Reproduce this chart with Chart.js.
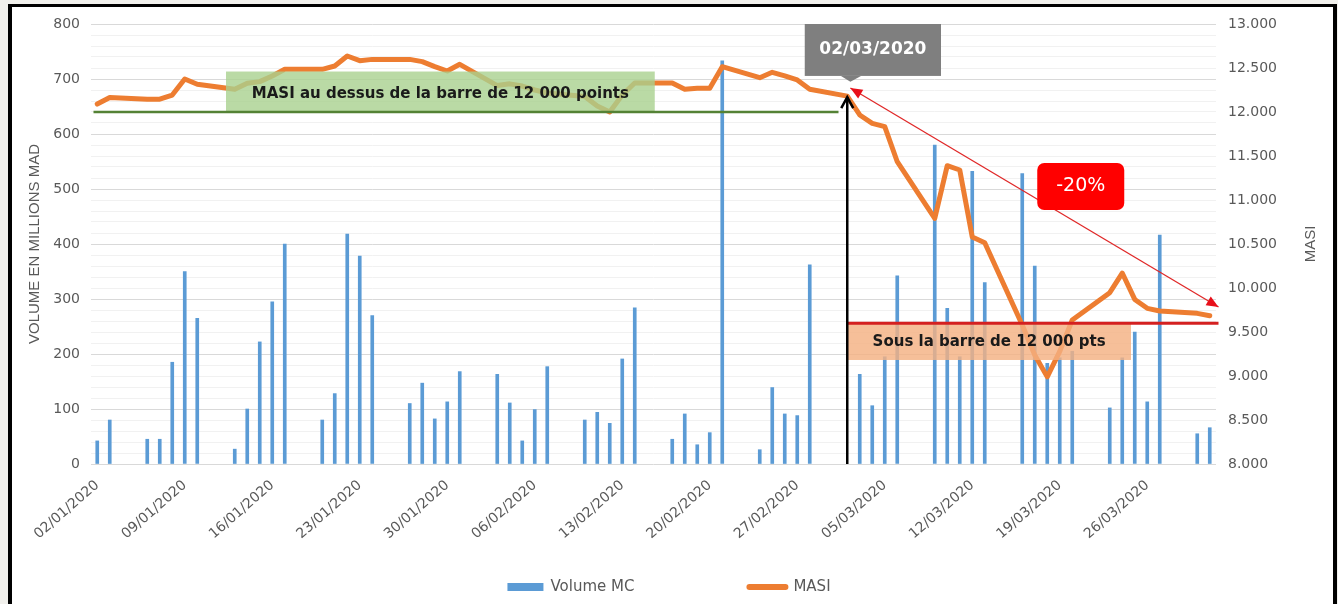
<!DOCTYPE html>
<html>
<head>
<meta charset="utf-8">
<script src="https://cdn.jsdelivr.net/npm/chart.js@4"></script>
<style>
  html, body { margin: 0; padding: 0; width: 1338px; height: 604px; overflow: hidden; background: #f1f0ec; }
  #frame { position: absolute; left: 8px; top: 4px; width: 1321px; height: 640px; background: #fff;
           border-left: 4px solid #000; border-top: 3px solid #000; border-right: 4px solid #000; }
  #masiChart { position: absolute; left: 0; top: 0; }
</style>
</head>
<body>
<div id="frame"></div>
<canvas id="masiChart" width="1338" height="604"></canvas>
<script>
// one row per week, Thursday -> Wednesday
var dates = [
  "02/01/2020","03/01/2020","04/01/2020","05/01/2020","06/01/2020","07/01/2020","08/01/2020",
  "09/01/2020","10/01/2020","11/01/2020","12/01/2020","13/01/2020","14/01/2020","15/01/2020",
  "16/01/2020","17/01/2020","18/01/2020","19/01/2020","20/01/2020","21/01/2020","22/01/2020",
  "23/01/2020","24/01/2020","25/01/2020","26/01/2020","27/01/2020","28/01/2020","29/01/2020",
  "30/01/2020","31/01/2020","01/02/2020","02/02/2020","03/02/2020","04/02/2020","05/02/2020",
  "06/02/2020","07/02/2020","08/02/2020","09/02/2020","10/02/2020","11/02/2020","12/02/2020",
  "13/02/2020","14/02/2020","15/02/2020","16/02/2020","17/02/2020","18/02/2020","19/02/2020",
  "20/02/2020","21/02/2020","22/02/2020","23/02/2020","24/02/2020","25/02/2020","26/02/2020",
  "27/02/2020","28/02/2020","29/02/2020","01/03/2020","02/03/2020","03/03/2020","04/03/2020",
  "05/03/2020","06/03/2020","07/03/2020","08/03/2020","09/03/2020","10/03/2020","11/03/2020",
  "12/03/2020","13/03/2020","14/03/2020","15/03/2020","16/03/2020","17/03/2020","18/03/2020",
  "19/03/2020","20/03/2020","21/03/2020","22/03/2020","23/03/2020","24/03/2020","25/03/2020",
  "26/03/2020","27/03/2020","28/03/2020","29/03/2020","30/03/2020","31/03/2020"
];

var volumeMC = [
  42, 80, null, null, 45, 45, 185,
  350, 265, null, null, 27, 100, 222,
  295, 400, null, null, 80, 128, 418,
  378, 270, null, null, 110, 147, 82,
  113, 168, null, null, 163, 111, 42,
  99, 177, null, null, 80, 94, 74,
  191, 284, null, null, 45, 91, 35,
  57, 733, null, null, 26, 139, 91,
  88, 362, null, null, null, 163, 106,
  195, 342, null, null, 580, 283, 195,
  532, 330, null, null, 528, 360, 183,
  193, 205, null, null, 102, 193, 240,
  113, 416, null, null, 55, 66
];

var masi = [
  12090, 12165, null, null, 12145, 12145, 12193,
  12375, 12315, null, null, 12258, 12326, 12345,
  12410, 12485, null, null, 12485, 12523, 12636,
  12583, 12598, null, null, 12598, 12572, 12515,
  12466, 12542, null, null, 12300, 12320, 12295,
  12250, 12216, null, null, 12176, 12068, 12000,
  12193, 12330, null, null, 12330, 12258, 12269,
  12269, 12515, null, null, 12390, 12451, 12410,
  12364, 12258, null, null, 12180, 11966, 11871,
  11833, 11435, null, null, 10791, 11390, 11341,
  10580, 10515, null, null, 9580, 9239, 8990,
  9280, 9636, null, null, 9947, 10170, 9870,
  9769, 9739, null, null, 9712, 9685
];

var labelEvery = 7;
var crashIdx = 60; // 02/03/2020

var grey = '#595959';
var tickFont = { family: 'DejaVu Sans', size: 14 };

function fmtMasi(v) {
  return Math.floor(v / 1000) + '.' + String(v % 1000).padStart(3, '0');
}

function arrowHead(ctx, x1, y1, x2, y2, len, half) {
  // filled triangle with its tip on (x2, y2)
  var a = Math.atan2(y2 - y1, x2 - x1);
  ctx.beginPath();
  ctx.moveTo(x2, y2);
  ctx.lineTo(x2 - len * Math.cos(a) + half * Math.sin(a), y2 - len * Math.sin(a) - half * Math.cos(a));
  ctx.lineTo(x2 - len * Math.cos(a) - half * Math.sin(a), y2 - len * Math.sin(a) + half * Math.cos(a));
  ctx.closePath();
  ctx.fill();
}

function roundRect(ctx, x, y, w, h, r) {
  ctx.beginPath();
  ctx.moveTo(x + r, y);
  ctx.arcTo(x + w, y, x + w, y + h, r);
  ctx.arcTo(x + w, y + h, x, y + h, r);
  ctx.arcTo(x, y + h, x, y, r);
  ctx.arcTo(x, y, x + w, y, r);
  ctx.closePath();
}

var marks = {
  id: 'marks',
  afterDatasetsDraw: function (chart) {
    var ctx = chart.ctx;
    var x = chart.scales.x, y1 = chart.scales.y1;
    var px = function (i) { return x.getPixelForValue(i); };
    var py = function (v) { return y1.getPixelForValue(v); };
    ctx.save();

    // green band : above 12 000
    ctx.fillStyle = 'rgba(169,209,142,0.8)';
    ctx.fillRect(px(10.3), py(12460), px(44.6) - px(10.3), py(12000) - py(12460));
    ctx.fillStyle = '#1a1a1a';
    ctx.font = 'bold 15px "DejaVu Sans"';
    ctx.textAlign = 'center';
    ctx.textBaseline = 'middle';
    ctx.fillText('MASI au dessus de la barre de 12 000 points', (px(10.3) + px(44.6)) / 2, py(12230) + 2);

    ctx.strokeStyle = '#548235';
    ctx.lineWidth = 2.5;
    ctx.beginPath();
    ctx.moveTo(px(-0.3), py(12000));
    ctx.lineTo(px(59.3), py(12000));
    ctx.stroke();

    // orange band : below
    ctx.fillStyle = 'rgba(244,177,131,0.82)';
    ctx.fillRect(px(crashIdx), py(9600), px(82.7) - px(crashIdx), py(9182) - py(9600));
    ctx.fillStyle = '#1a1a1a';
    ctx.fillText('Sous la barre de 12 000 pts', (px(crashIdx) + px(82.7)) / 2, py(9391) + 1);

    ctx.strokeStyle = '#d42020';
    ctx.lineWidth = 3;
    ctx.beginPath();
    ctx.moveTo(px(crashIdx), py(9600));
    ctx.lineTo(px(89.7), py(9600));
    ctx.stroke();

    // black arrow on 02/03
    var bx = px(crashIdx), topY = py(12170);
    ctx.strokeStyle = '#000';
    ctx.lineWidth = 2.5;
    ctx.beginPath();
    ctx.moveTo(bx, py(8000));
    ctx.lineTo(bx, topY);
    ctx.stroke();
    ctx.beginPath();
    ctx.moveTo(bx - 6, topY + 11);
    ctx.lineTo(bx, topY);
    ctx.lineTo(bx + 6, topY + 11);
    ctx.stroke();

    // date callout
    ctx.fillStyle = '#7f7f7f';
    ctx.fillRect(px(56.6), py(13000), px(67.5) - px(56.6), py(12410) - py(13000));
    ctx.beginPath();
    ctx.moveTo(px(59.5), py(12410));
    ctx.lineTo(px(61.1), py(12410));
    ctx.lineTo(px(60.25), py(12344));
    ctx.closePath();
    ctx.fill();
    ctx.fillStyle = '#fff';
    ctx.font = 'bold 17px "DejaVu Sans"';
    ctx.fillText('02/03/2020', (px(56.6) + px(67.5)) / 2, py(12705));

    // red -20% arrow
    var ax1 = px(60.25), ay1 = py(12273), ax2 = px(89.7), ay2 = py(9784);
    ctx.strokeStyle = '#e02828';
    ctx.fillStyle = '#e8101a';
    ctx.lineWidth = 1.3;
    ctx.beginPath();
    ctx.moveTo(ax1, ay1);
    ctx.lineTo(ax2, ay2);
    ctx.stroke();
    arrowHead(ctx, ax2, ay2, ax1, ay1, 12, 5);
    arrowHead(ctx, ax1, ay1, ax2, ay2, 12, 5);

    ctx.fillStyle = '#ff0000';
    roundRect(ctx, px(75.2), py(11420), px(82.16) - px(75.2), py(10886) - py(11420), 7);
    ctx.fill();
    ctx.fillStyle = '#fff';
    ctx.font = '19px "DejaVu Sans"';
    ctx.fillText('-20%', (px(75.2) + px(82.16)) / 2, py(11153));

    ctx.restore();
  },
  afterDraw: function (chart) {
    var ctx = chart.ctx, area = chart.chartArea, y1 = chart.scales.y1;
    ctx.save();
    // right axis title, reading upwards
    ctx.fillStyle = grey;
    ctx.font = '15px "Liberation Sans"';
    ctx.textAlign = 'center';
    ctx.textBaseline = 'middle';
    ctx.translate(y1.right - 11, (area.top + area.bottom) / 2);
    ctx.rotate(-Math.PI / 2);
    ctx.fillText('MASI', 0, 0);
    ctx.restore();

    // legend
    ctx.save();
    ctx.font = '15px "DejaVu Sans"';
    ctx.textBaseline = 'middle';
    ctx.textAlign = 'left';
    var ds = chart.data.datasets;
    var bar = ds[1], line = ds[0];
    var w1 = 36 + 7 + ctx.measureText(bar.label).width;
    var w2 = 42 + 5 + ctx.measureText(line.label).width;
    var gap = 112;
    var lx = chart.width / 2 - (w1 + gap + w2) / 2;
    var ly = 587;
    ctx.fillStyle = bar.backgroundColor;
    ctx.fillRect(lx, ly - 4, 36, 8);
    ctx.fillStyle = grey;
    ctx.fillText(bar.label, lx + 43, ly);
    var l2 = lx + w1 + gap;
    ctx.strokeStyle = line.borderColor;
    ctx.lineWidth = 6;
    ctx.lineCap = 'round';
    ctx.beginPath();
    ctx.moveTo(l2 + 3, ly);
    ctx.lineTo(l2 + 39, ly);
    ctx.stroke();
    ctx.fillText(line.label, l2 + 47, ly);
    ctx.restore();
  }
};

var ctx = document.getElementById('masiChart').getContext('2d');
var masiChart = new Chart(ctx, {
  type: 'bar',
  data: {
    labels: dates,
    datasets: [{
      type: 'line',
      label: 'MASI',
      data: masi,
      yAxisID: 'y1',
      borderColor: '#ed7d31',
      backgroundColor: '#ed7d31',
      borderWidth: 5,
      pointRadius: 0,
      tension: 0,
      spanGaps: true,
      borderJoinStyle: 'round',
      borderCapStyle: 'round',
      order: 1
    }, {
      type: 'bar',
      label: 'Volume MC',
      data: volumeMC,
      yAxisID: 'y',
      backgroundColor: '#5b9bd5',
      barThickness: 3,
      order: 2
    }]
  },
  options: {
    responsive: false,
    animation: false,
    devicePixelRatio: 1,
    layout: { padding: { left: 22, right: 16, top: 24, bottom: 0 } },
    plugins: { legend: { display: false }, tooltip: { enabled: false } },
    scales: {
      x: {
        grid: { display: false },
        border: { display: false },
        ticks: {
          autoSkip: false, minRotation: 41, maxRotation: 41, padding: 5,
          color: grey, font: { family: 'DejaVu Sans', size: 14 },
          callback: function (v, i) { return i % labelEvery === 0 ? dates[i] : ''; }
        },
        afterFit: function (s) { s.height = 140; }
      },
      y: {
        position: 'left', min: 0, max: 800,
        ticks: {
          autoSkip: false, stepSize: 20, padding: 11, color: grey, font: tickFont,
          callback: function (v) { return v % 100 === 0 ? v : ''; }
        },
        grid: {
          drawTicks: false,
          color: function (c) { return c.tick.value % 100 === 0 ? '#d9d9d9' : '#f1f1f1'; }
        },
        border: { display: false },
        title: {
          display: true, text: 'VOLUME EN MILLIONS MAD', color: grey,
          font: { family: 'Liberation Sans', size: 15 }
        },
        afterFit: function (s) { s.width = 69; }
      },
      y1: {
        position: 'right', min: 8000, max: 13000,
        ticks: { autoSkip: false, stepSize: 500, padding: 12, color: grey, font: tickFont, callback: fmtMasi },
        grid: { display: false, drawTicks: false },
        border: { display: false },
        afterFit: function (s) { s.width = 106; }
      }
    }
  },
  plugins: [marks]
});
</script>
</body>
</html>
